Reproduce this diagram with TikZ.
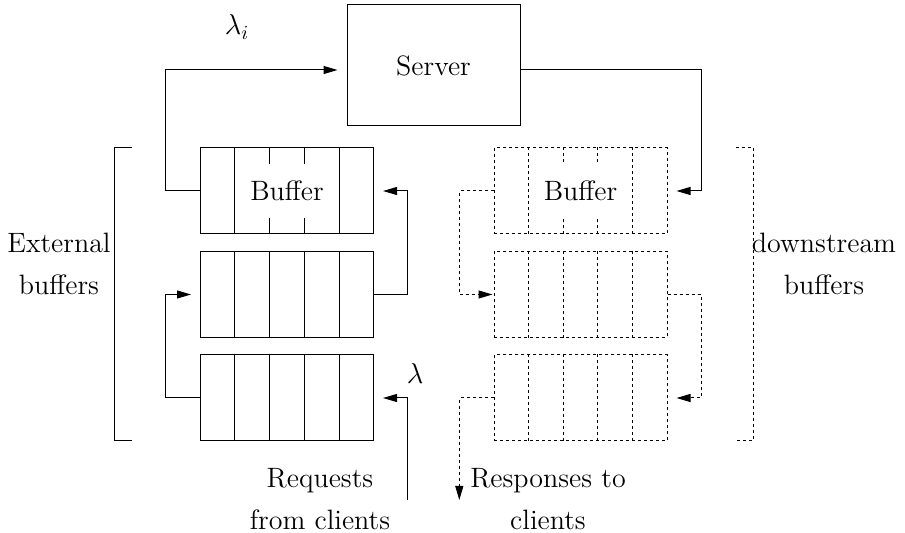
\documentclass[tikz,border=0pt]{standalone}
\usetikzlibrary{arrows.meta,calc}
\begin{document}
\begin{tikzpicture}[x=0.5pt,y=-0.5pt,
  every node/.style={font=\fontsize{14}{21}\selectfont},
  line/.style={line width=0.5pt},
  dsh/.style={line width=0.5pt,dash pattern=on 1.5pt off 1.5pt},
  buf/.style={draw,line width=0.5pt,minimum width=86.5pt,minimum height=43pt,inner sep=0pt},
  dbuf/.style={buf,dash pattern=on 1.5pt off 1.5pt},
  srvbox/.style={draw,line width=0.5pt,minimum width=86.5pt,minimum height=60.5pt,inner sep=0pt},
  arr/.style={-{Triangle[length=7pt,width=4pt]},shorten >=4.5pt},
  lbl/.style={align=center,inner sep=0pt}
]
\useasboundingbox (0,0) rectangle (905,533);

% server
\node[srvbox] (srv) at (433.5,65.5) {Server};

% left buffers
\node[buf] (lb1) at (287,191) {};
\node[buf] (lb2) at (287,294.5) {};
\node[buf] (lb3) at (287,398) {};
% right buffers
\node[dbuf] (rb1) at (580.5,191) {};
\node[dbuf] (rb2) at (580.5,294.5) {};
\node[dbuf] (rb3) at (580.5,398) {};

% dividers
\foreach \b in {lb2,lb3}{
  \foreach \i in {1,2,3,4}{
    \draw[line] ($(\b.north west)!\i/5!(\b.north east)$) -- ($(\b.south west)!\i/5!(\b.south east)$);
  }
}
\foreach \b in {rb2,rb3}{
  \foreach \i in {1,2,3,4}{
    \draw[dsh] ($(\b.north west)!\i/5!(\b.north east)$) -- ($(\b.south west)!\i/5!(\b.south east)$);
  }
}
\foreach \i in {1,4}{
  \draw[line] ($(lb1.north west)!\i/5!(lb1.north east)$) -- ($(lb1.south west)!\i/5!(lb1.south east)$);
  \draw[dsh] ($(rb1.north west)!\i/5!(rb1.north east)$) -- ($(rb1.south west)!\i/5!(rb1.south east)$);
}
\foreach \i in {2,3}{
  \draw[line] ($(lb1.north west)!\i/5!(lb1.north east)$) -- ++(0,16.7);
  \draw[line] ($(lb1.south west)!\i/5!(lb1.south east)$) -- ++(0,-16.7);
  \draw[dsh] ($(rb1.north west)!\i/5!(rb1.north east)$) -- ++(0,16.7);
  \draw[dsh] ($(rb1.south west)!\i/5!(rb1.south east)$) -- ++(0,-16.7);
}
\node[inner sep=0pt] (bt1) at (lb1.center) {Buffer};
\node[inner sep=0pt] (bt2) at (rb1.center) {Buffer};

% connectors (solid)
\draw[line,arr] (lb1.west) -- ++(-34.5,0) |- ([yshift=-2.25pt]srv.west);
\draw[line,arr] ([yshift=-2.25pt]srv.east) -| ($(rb1.east)+(33.5,0)$) -- (rb1.east);
\draw[line,arr] (lb2.east) -- ++(33.7,0) |- (lb1.east);
\draw[line,arr] (lb3.west) -- ++(-34.5,0) |- (lb2.west);
\coordinate (req) at (407,500);
\draw[line,arr] (req) |- (lb3.east);

% connectors (dashed)
\draw[dsh,-{Triangle[length=7pt,width=4pt]},shorten >=0.5pt] (rb1.west) -- ++(-34,0) |- (rb2.west);
\draw[dsh,arr] (rb2.east) -- ++(33.5,0) |- (rb3.east);
\coordinate (resp) at (459.3,500);
\draw[dsh,-{Triangle[length=7pt,width=4pt]}] (rb3.west) -| (resp);

% brackets
\draw[line] (131.7,147.7) -- (114.3,147.7) -- (114.3,441) -- (131.7,441);
\draw[dsh] (736,147.7) -- (753.3,147.7) -- (753.3,441) -- (736,441);

% labels
\node[lbl] (li) at (237,27) {$\lambda_i$};
\node[lbl] (l) at (415,374) {$\lambda$};
\node[lbl] (ext) at (59,264) {External\\buffers};
\node[lbl] (down) at (824,264) {downstream\\buffers};
\node[lbl] (reqt) at (320,499) {Requests\\from clients};
\node[lbl] (rest) at (548,499) {Responses to\\clients};
\end{tikzpicture}
\end{document}
